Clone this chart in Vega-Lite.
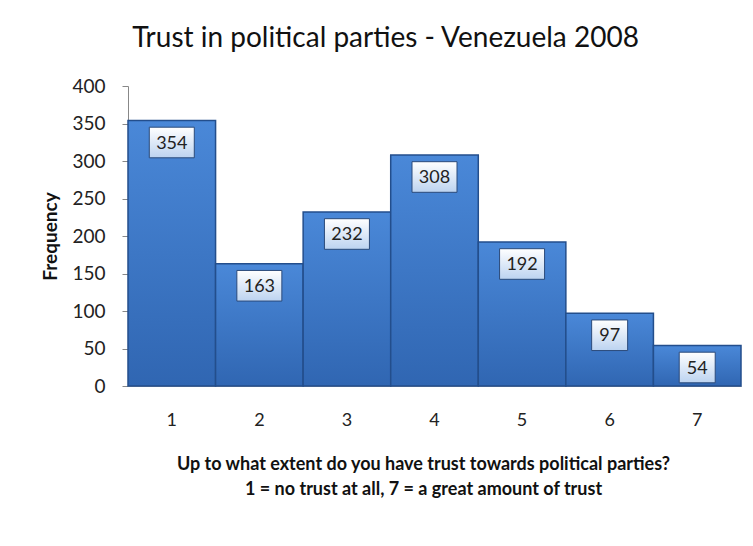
{
  "$schema": "https://vega.github.io/schema/vega-lite/v6.json",
  "width": 613,
  "height": 300,
  "autosize": {"type": "none"},
  "padding": {"left": 128, "top": 86, "right": 12, "bottom": 160},
  "background": "white",
  "title": {
    "text": "Trust in political parties - Venezuela 2008",
    "font": "Lato",
    "fontSize": 28,
    "fontWeight": "normal",
    "color": "#111111",
    "anchor": "middle",
    "dx": -49,
    "offset": 24
  },
  "data": {
    "values": [
      {"score": "1", "freq": 354},
      {"score": "2", "freq": 163},
      {"score": "3", "freq": 232},
      {"score": "4", "freq": 308},
      {"score": "5", "freq": 192},
      {"score": "6", "freq": 97},
      {"score": "7", "freq": 54}
    ]
  },
  "encoding": {
    "x": {
      "field": "score",
      "type": "ordinal",
      "scale": {"paddingInner": 0, "paddingOuter": 0},
      "axis": {
        "labelAngle": 0,
        "ticks": false,
        "labelPadding": 25,
        "labelFont": "Lato",
        "labelFontSize": 18,
        "labelColor": "#222222",
        "domainColor": "#999999",
        "title": ["Up to what extent do you have trust towards political parties?", "1 = no trust at all, 7 = a great amount of trust"],
        "titleFont": "Lato",
        "titleFontSize": 18,
        "titleFontWeight": "bold",
        "titleColor": "#111111",
        "titleX": 295,
        "titleY": 69,
        "titleAlign": "center",
        "titleBaseline": "top",
        "titleLineHeight": 25
      }
    },
    "y": {
      "field": "freq",
      "type": "quantitative",
      "scale": {"domain": [0, 400]},
      "axis": {
        "values": [0, 50, 100, 150, 200, 250, 300, 350, 400],
        "grid": false,
        "tickSize": 6,
        "tickColor": "#888888",
        "domainColor": "#888888",
        "labelPadding": 17,
        "labelFont": "Lato",
        "labelFontSize": 19,
        "labelColor": "#222222",
        "title": "Frequency",
        "titleFont": "Lato",
        "titleFontSize": 19,
        "titleFontWeight": "bold",
        "titleColor": "#111111",
        "titleX": -78,
        "titleY": 150,
        "titleAngle": -90,
        "titleAlign": "center",
        "titleBaseline": "middle"
      }
    }
  },
  "layer": [
    {
      "mark": {
        "type": "bar",
        "fill": {
          "gradient": "linear",
          "x1": 0, "y1": 0, "x2": 0, "y2": 1,
          "stops": [
            {"offset": 0, "color": "#4a88d8"},
            {"offset": 1, "color": "#3066b2"}
          ]
        },
        "stroke": "#234e8c",
        "strokeWidth": 1.5
      }
    },
    {
      "mark": {
        "type": "point",
        "filled": true,
        "opacity": 1,
        "yOffset": 22,
        "size": 2025,
        "fill": {
          "gradient": "linear",
          "x1": 0, "y1": 0, "x2": 0, "y2": 1,
          "stops": [
            {"offset": 0, "color": "#ffffff"},
            {"offset": 1, "color": "#bcd3f0"}
          ]
        },
        "stroke": "#2b4a7a",
        "strokeWidth": 1
      },
      "encoding": {
        "shape": {
          "condition": {"test": "datum.freq < 100", "value": "M-0.8,-0.68L0.8,-0.68L0.8,0.68L-0.8,0.68Z"},
          "value": "M-1,-0.68L1,-0.68L1,0.68L-1,0.68Z"
        }
      }
    },
    {
      "mark": {
        "type": "text",
        "yOffset": 23,
        "font": "Lato",
        "fontSize": 18,
        "color": "#222222",
        "baseline": "middle",
        "align": "center"
      },
      "encoding": {
        "text": {"field": "freq", "type": "quantitative"}
      }
    }
  ],
  "config": {"view": {"stroke": null}}
}
